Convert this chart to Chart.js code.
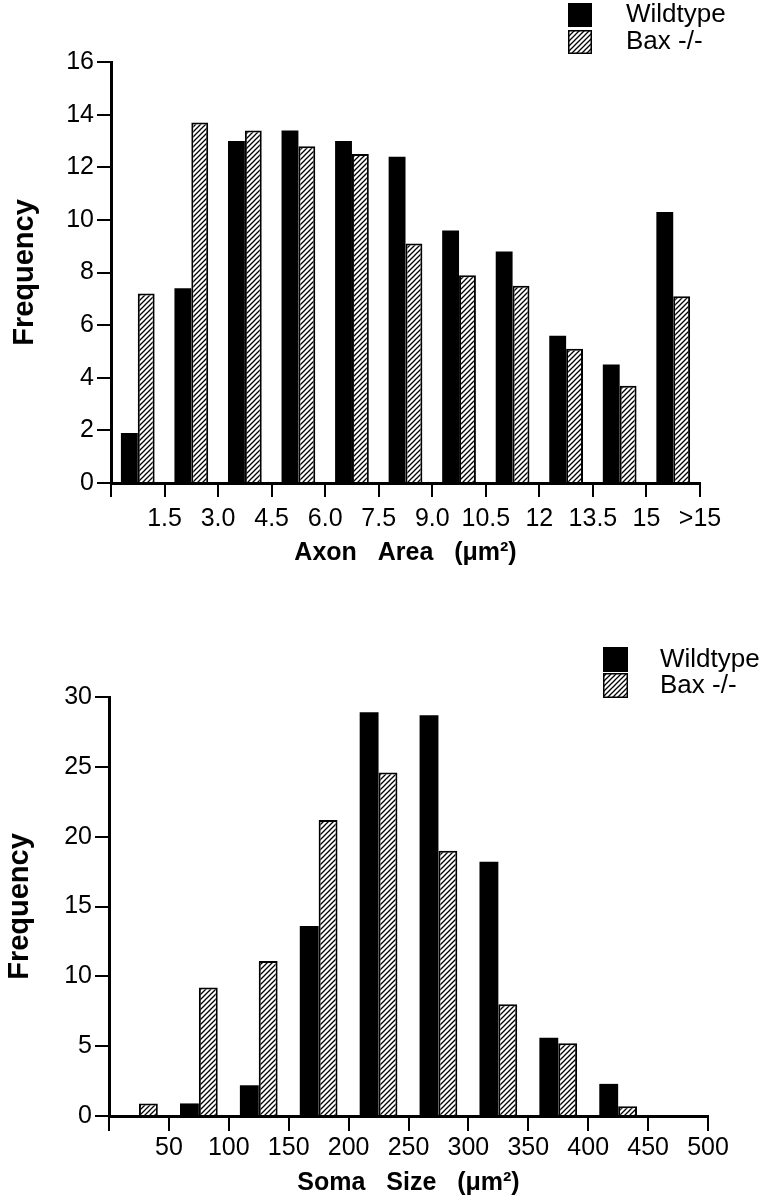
<!DOCTYPE html>
<html>
<head>
<meta charset="utf-8">
<script src="https://cdn.jsdelivr.net/npm/chart.js@4.4.1/dist/chart.umd.min.js"></script>
<style>
  body { margin: 0; background: #fff; }
  .panel { position: relative; width: 766px; }
</style>
</head>
<body>
<div class="panel" style="height:585px"><canvas id="axonChart"></canvas></div>
<div class="panel" style="height:614px"><canvas id="somaChart"></canvas></div>
<script>
// series names
const seriesNames = ['Wildtype', 'Bax -/-'];

// Axon area histogram (bins of 1.5 um2, last bin >15)
const axonTickLabels = ['', '1.5', '3.0', '4.5', '6.0', '7.5', '9.0', '10.5', '12', '13.5', '15', '>15'];
const axonWildtype = [1.9, 7.4, 13.0, 13.4, 13.0, 12.4, 9.6, 8.8, 5.6, 4.5, 10.3];
const axonBax      = [7.2, 13.7, 13.4, 12.8, 12.5, 9.1, 7.9, 7.5, 5.1, 3.7, 7.1];

// Soma size histogram (bins of 50 um2)
const somaTickLabels = ['', '50', '100', '150', '200', '250', '300', '350', '400', '450', '500'];
const somaWildtype = [0, 0.9, 2.2, 13.6, 28.9, 28.7, 18.2, 5.6, 2.3, 0];
const somaBax      = [0.9, 9.2, 11.1, 21.2, 24.6, 19.0, 8.0, 5.2, 0.7, 0];

const FONT = "'Liberation Sans', Arial, Helvetica, sans-serif";

// diagonal hatch used for the Bax -/- bars
function makeHatch() {
	const c = document.createElement('canvas');
	c.width = 5; c.height = 5;
	const g = c.getContext('2d');
	g.fillStyle = '#fff';
	g.fillRect(0, 0, 5, 5);
	g.strokeStyle = '#000';
	g.lineWidth = 1.3;
	g.beginPath();
	g.moveTo(-1, 6); g.lineTo(6, -1);
	g.moveTo(-1, 1); g.lineTo(1, -1);
	g.moveTo(4, 6); g.lineTo(6, 4);
	g.stroke();
	return g.createPattern(c, 'repeat');
}
const hatch = makeHatch();

// legend drawn as two stacked boxes at top right
const boxLegend = {
	id: 'boxLegend',
	afterDraw(chart, args, opts) {
		const ctx = chart.ctx;
		ctx.save();
		chart.data.datasets.forEach((ds, i) => {
			const y = opts.y + i * opts.step;
			ctx.fillStyle = ds.backgroundColor;
			ctx.fillRect(opts.x, y, opts.size, opts.size);
			ctx.strokeStyle = '#000';
			ctx.lineWidth = 1.5;
			ctx.strokeRect(opts.x + 0.75, y + 0.75, opts.size - 1.5, opts.size - 1.5);
			ctx.fillStyle = '#000';
			ctx.font = opts.fontSize + 'px ' + FONT;
			ctx.textBaseline = 'middle';
			ctx.fillText(ds.label, opts.textX, y + opts.size / 2);
		});
		ctx.restore();
	}
};

function histogram(id, o) {
	const toPoints = arr => arr.map((v, i) => ({ x: i + 0.5, y: v }));
	return new Chart(document.getElementById(id), {
		type: 'bar',
		data: {
			datasets: [
				{
					label: seriesNames[0],
					data: toPoints(o.wildtype),
					backgroundColor: '#000',
					borderColor: '#000',
					borderWidth: 0,
					categoryPercentage: 0.63,
					barPercentage: 1.0
				},
				{
					label: seriesNames[1],
					data: toPoints(o.bax),
					backgroundColor: hatch,
					borderColor: '#000',
					borderWidth: 2,
					categoryPercentage: 0.63,
					barPercentage: 1.0
				}
			]
		},
		options: {
			responsive: true,
			maintainAspectRatio: false,
			animation: false,
			events: [],
			layout: { padding: o.padding },
			plugins: {
				legend: { display: false },
				tooltip: { enabled: false },
				boxLegend: o.legend
			},
			scales: {
				x: {
					type: 'linear',
					min: 0,
					max: o.tickLabels.length - 1,
					offset: false,
					border: { color: '#000', width: 3 },
					grid: { offset: false, drawOnChartArea: false, tickLength: o.xTick, color: '#000', lineWidth: 2 },
					ticks: {
						stepSize: 1,
						autoSkip: false,
						maxRotation: 0,
						padding: o.xPad,
						color: '#000',
						font: { family: FONT, size: 25 },
						callback: v => o.tickLabels[v]
					},
					title: {
						display: true,
						text: o.xTitle,
						color: '#000',
						font: { family: FONT, size: 25, weight: 'bold' },
						padding: 0
					},
					afterFit: s => { s.height = o.xHeight; }
				},
				y: {
					min: 0,
					max: o.yMax,
					border: { color: '#000', width: 3 },
					grid: { drawOnChartArea: false, tickLength: 14, color: '#000', lineWidth: 2 },
					ticks: {
						stepSize: o.yStep,
						padding: 3,
						color: '#000',
						font: { family: FONT, size: 25 }
					},
					title: {
						display: true,
						text: 'Frequency',
						color: '#000',
						font: { family: FONT, size: 29, weight: 'bold' },
						padding: 0
					},
					afterFit: s => { s.width = o.yWidth; }
				}
			}
		},
		plugins: [boxLegend]
	});
}

histogram('axonChart', {
	wildtype: axonWildtype,
	bax: axonBax,
	tickLabels: axonTickLabels,
	xTitle: 'Axon   Area   (μm²)',
	yMax: 16,
	yStep: 2,
	padding: { left: 8, top: 62, right: 66, bottom: 17 },
	yWidth: 103,
	xHeight: 85,
	xTick: 14,
	xPad: 7,
	legend: { x: 568, y: 3, step: 27, size: 24, textX: 626, fontSize: 26 }
});

histogram('somaChart', {
	wildtype: somaWildtype,
	bax: somaBax,
	tickLabels: somaTickLabels,
	xTitle: 'Soma   Size   (μm²)',
	yMax: 30,
	yStep: 5,
	padding: { left: 3, top: 112, right: 58, bottom: 1 },
	yWidth: 106,
	xHeight: 82,
	xTick: 15,
	xPad: 2,
	legend: { x: 603, y: 62, step: 26, size: 25, textX: 660, fontSize: 26 }
});
</script>
</body>
</html>
